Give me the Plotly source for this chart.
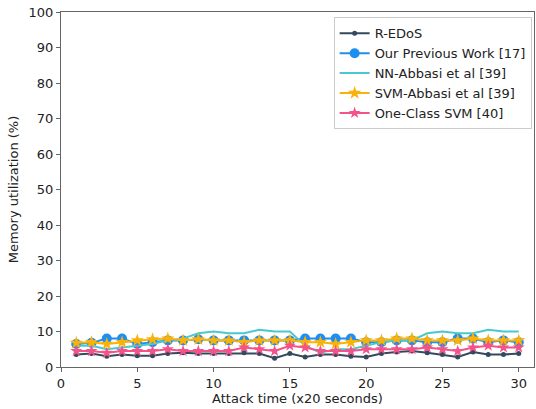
import plotly.graph_objects as go

x = list(range(1, 31))
redos = [3.5, 3.8, 3.0, 3.5, 3.2, 3.2, 3.8, 4.0, 3.8, 3.8, 3.8, 4.0, 3.8, 2.5, 3.8,
         2.8, 3.5, 3.5, 3.0, 2.8, 3.8, 4.2, 4.5, 4.0, 3.5, 2.8, 4.2, 3.5, 3.5, 3.8]
prev = [6.5, 6.8, 8.0, 8.0, 6.5, 7.0, 7.5, 7.5, 7.8, 7.5, 7.5, 7.5, 7.5, 7.5, 7.5,
        8.0, 8.0, 8.0, 8.0, 7.0, 7.0, 7.5, 7.5, 7.0, 7.0, 8.0, 8.0, 7.0, 7.5, 7.0]
nn = [6.0, 6.0, 5.0, 5.5, 6.0, 6.5, 7.5, 8.0, 9.5, 10.0, 9.5, 9.5, 10.5, 10.0, 10.0,
      6.0, 4.0, 5.0, 5.0, 6.0, 7.0, 7.5, 7.5, 9.5, 10.0, 9.5, 9.5, 10.5, 10.0, 10.0]
svm = [6.8, 7.0, 6.5, 7.0, 7.5, 7.8, 8.0, 7.5, 7.8, 7.5, 7.5, 7.0, 7.5, 7.5, 7.5,
       7.0, 7.0, 6.5, 7.0, 7.5, 7.5, 8.0, 8.0, 7.5, 7.5, 7.5, 8.0, 7.5, 7.5, 7.5]
ocsvm = [4.5, 4.5, 4.0, 4.5, 4.5, 4.5, 5.0, 4.5, 4.5, 4.5, 4.5, 5.5, 5.0, 4.5, 6.0,
         5.5, 4.5, 4.5, 4.5, 5.0, 5.0, 5.0, 5.0, 5.5, 5.0, 4.5, 5.5, 6.0, 5.5, 5.5]

names = ["R-EDoS", "Our Previous Work [17]", "NN-Abbasi et al [39]",
         "SVM-Abbasi et al [39]", "One-Class SVM [40]"]
xticks = [0, 5, 10, 15, 20, 25, 30]
yticks = list(range(0, 101, 10))

fig = go.Figure()
fig.add_trace(go.Scatter(x=x, y=redos, name=names[0], mode="lines+markers",
                         line=dict(color="#34495e", width=2),
                         marker=dict(symbol="circle", size=5, color="#34495e")))
fig.add_trace(go.Scatter(x=x, y=prev, name=names[1], mode="lines+markers",
                         line=dict(color="#1e8ef0", width=2),
                         marker=dict(symbol="circle", size=10, color="#1e8ef0")))
fig.add_trace(go.Scatter(x=x, y=nn, name=names[2], mode="lines",
                         line=dict(color="#48c9d0", width=2)))
fig.add_trace(go.Scatter(x=x, y=svm, name=names[3], mode="lines+markers",
                         line=dict(color="#fbb208", width=2),
                         marker=dict(symbol="star", size=10, color="#fbb208")))
fig.add_trace(go.Scatter(x=x, y=ocsvm, name=names[4], mode="lines+markers",
                         line=dict(color="#f3528a", width=2),
                         marker=dict(symbol="star", size=9, color="#f3528a")))

axis_common = dict(showgrid=False, zeroline=False, showline=True, mirror=True,
                   linecolor="#666666", linewidth=1.2, ticks="outside", ticklen=4,
                   tickcolor="#666666", tickfont=dict(size=13, color="#222222"))
fig.update_layout(
    width=536, height=409,
    margin=dict(l=61, r=2, t=12, b=42),
    paper_bgcolor="white", plot_bgcolor="white",
    font=dict(family="DejaVu Sans", size=13, color="#222222"),
    xaxis=dict(range=[0, 31], tickvals=xticks,
               title=dict(text="Attack time (x20 seconds)", standoff=2,
                          font=dict(size=13)), **axis_common),
    yaxis=dict(range=[0, 100], tickvals=yticks,
               title=dict(text="Memory utilization (%)", standoff=6,
                          font=dict(size=13)), **axis_common),
    legend=dict(x=0.995, y=0.985, xanchor="right", yanchor="top",
                bgcolor="rgba(255,255,255,0.8)", bordercolor="#cccccc",
                borderwidth=1, font=dict(size=13), tracegroupgap=0,
                itemwidth=30),
    showlegend=True,
)
fig.write_html("out.html")
